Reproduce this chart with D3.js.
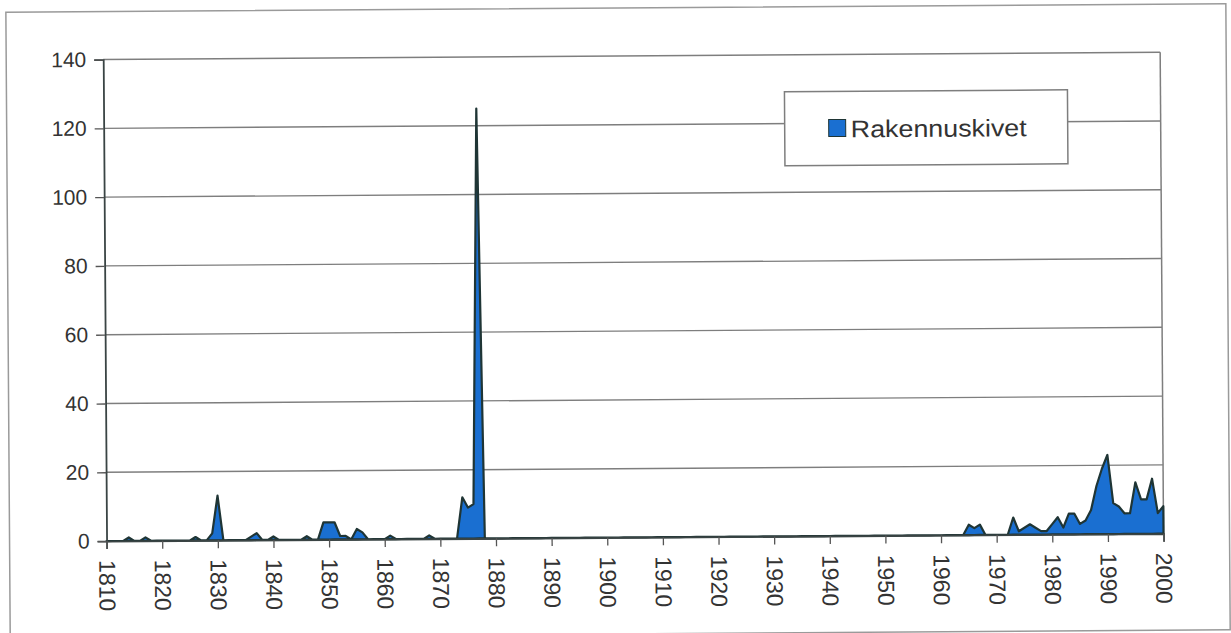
<!DOCTYPE html>
<html lang="fi">
  <head>
    <meta charset="utf-8">
    <title>Rakennuskivet</title>
    <script src="https://d3js.org/d3.v7.min.js"></script>
    <style>
      body { margin: 0; background: #fff; }
      text { font-family: "Liberation Sans", Arial, sans-serif; fill: #333; }
    </style>
  </head>
  <body>
    <div id="chart"></div>
    <script>
      // years 1810..2000, one value per year
      var firstYear = 1810;
      var values = [
        0, 0, 0, 0, 1, 0, 0, 1, 0, 0,        // 1810s
        0, 0, 0, 0, 0, 0, 1, 0, 0, 2,        // 1820s
        13, 0, 0, 0, 0, 0, 1, 2, 0, 0,       // 1830s
        1, 0, 0, 0, 0, 0, 1, 0, 0, 5,        // 1840s
        5, 5, 1, 1, 0, 3, 2, 0, 0, 0,        // 1850s
        0, 1, 0, 0, 0, 0, 0, 0, 1, 0,        // 1860s
        0, 0, 0, 0, 12, 9, 10, 125, 0, 0,    // 1870s
        0, 0, 0, 0, 0, 0, 0, 0, 0, 0,        // 1880s
        0, 0, 0, 0, 0, 0, 0, 0, 0, 0,        // 1890s
        0, 0, 0, 0, 0, 0, 0, 0, 0, 0,        // 1900s
        0, 0, 0, 0, 0, 0, 0, 0, 0, 0,        // 1910s
        0, 0, 0, 0, 0, 0, 0, 0, 0, 0,        // 1920s
        0, 0, 0, 0, 0, 0, 0, 0, 0, 0,        // 1930s
        0, 0, 0, 0, 0, 0, 0, 0, 0, 0,        // 1940s
        0, 0, 0, 0, 0, 0, 0, 0, 0, 0,        // 1950s
        0, 0, 0, 0, 0, 3, 2, 3, 0, 0,        // 1960s
        0, 0, 0, 5, 1, 2, 3, 2, 1, 1,        // 1970s
        3, 5, 2, 6, 6, 3, 4, 7, 14, 19,      // 1980s
        23, 9, 8, 6, 6, 15, 10, 10, 16, 6,   // 1990s
        8                                    // 2000
      ];
      var xTickLabels = ["1810", "1820", "1830", "1840", "1850", "1860", "1870", "1880", "1890", "1900",
                         "1910", "1920", "1930", "1940", "1950", "1960", "1970", "1980", "1990", "2000"];
      var yTickValues = [0, 20, 40, 60, 80, 100, 120, 140];
      var seriesName = "Rakennuskivet";

      var W = 1231, H = 633;
      var plot = {left: 105, right: 1162, top: 56, bottom: 537.5};

      var data = values.map(function(v, i) { return {year: firstYear + i, value: v}; });

      var x = d3.scaleLinear().domain([1810, 2000]).range([plot.left, plot.right]);
      var y = d3.scaleLinear().domain([0, 140]).range([plot.bottom, plot.top]);

      var svg = d3.select("#chart").append("svg")
          .attr("width", W)
          .attr("height", H);

      // the scan is slightly tilted
      var g = svg.append("g").attr("transform", "rotate(-0.4, 615, 316)");

      // outer chart border
      g.append("rect")
          .attr("x", 8).attr("y", 8)
          .attr("width", 1220).attr("height", 626)
          .attr("fill", "#fff")
          .attr("stroke", "#9a9a9a")
          .attr("stroke-width", 1.5);

      // gridlines
      g.append("g")
        .selectAll("line")
        .data(yTickValues.slice(1))
        .enter().append("line")
          .attr("x1", plot.left).attr("x2", plot.right)
          .attr("y1", function(d) { return y(d); })
          .attr("y2", function(d) { return y(d); })
          .attr("stroke", "#7e7e7e")
          .attr("stroke-width", 1.4);

      // right border of plot area
      g.append("line")
          .attr("x1", plot.right).attr("x2", plot.right)
          .attr("y1", plot.top).attr("y2", plot.bottom)
          .attr("stroke", "#7e7e7e")
          .attr("stroke-width", 1.5);

      // the area
      var area = d3.area()
          .x(function(d) { return x(d.year); })
          .y0(y(0))
          .y1(function(d) { return y(d.value); });

      g.append("path")
          .datum(data)
          .attr("d", area)
          .attr("fill", "#1a6fd1")
          .attr("stroke", "#1f3535")
          .attr("stroke-width", 2.2)
          .attr("stroke-linejoin", "round");

      // y axis
      var yAxis = d3.axisLeft(y)
          .tickValues(yTickValues)
          .tickSize(9)
          .tickPadding(8)
          .tickFormat(d3.format("d"));

      var yg = g.append("g")
          .attr("transform", "translate(" + plot.left + ",0)")
          .call(yAxis);
      yg.select(".domain").attr("stroke", "#3a4444").attr("stroke-width", 1.8);
      yg.selectAll(".tick line").attr("stroke", "#555").attr("stroke-width", 1.3);
      yg.selectAll(".tick text")
          .style("font-size", "21px")
          .attr("fill", "#333");

      // x axis, a tick every ten years
      var xAxis = d3.axisBottom(x)
          .tickValues(xTickLabels.map(Number))
          .tickSize(8)
          .tickFormat(function(d, i) { return xTickLabels[i]; });

      var xg = g.append("g")
          .attr("transform", "translate(0," + plot.bottom + ")")
          .call(xAxis);
      xg.select(".domain").attr("stroke", "#3a4444").attr("stroke-width", 1.8);
      xg.selectAll(".tick line").attr("stroke", "#555").attr("stroke-width", 1.3);
      xg.selectAll(".tick text")
          .style("font-size", "23px")
          .attr("fill", "#333")
          .attr("text-anchor", "start")
          .attr("transform", "translate(0,19) rotate(90)")
          .attr("x", 0)
          .attr("y", 0)
          .attr("dy", "0.35em");

      // legend
      var lg = g.append("g");
      lg.append("rect")
          .attr("x", 786).attr("y", 93)
          .attr("width", 283).attr("height", 74)
          .attr("fill", "#fff")
          .attr("stroke", "#7e7e7e")
          .attr("stroke-width", 1.5);
      lg.append("rect")
          .attr("x", 830).attr("y", 121)
          .attr("width", 17).attr("height", 17)
          .attr("fill", "#1a6fd1")
          .attr("stroke", "#1f3535")
          .attr("stroke-width", 1);
      lg.append("text")
          .attr("x", 852).attr("y", 139)
          .attr("textLength", 176)
          .attr("lengthAdjust", "spacingAndGlyphs")
          .style("font-size", "24px")
          .text(seriesName);
    </script>
  </body>
</html>
